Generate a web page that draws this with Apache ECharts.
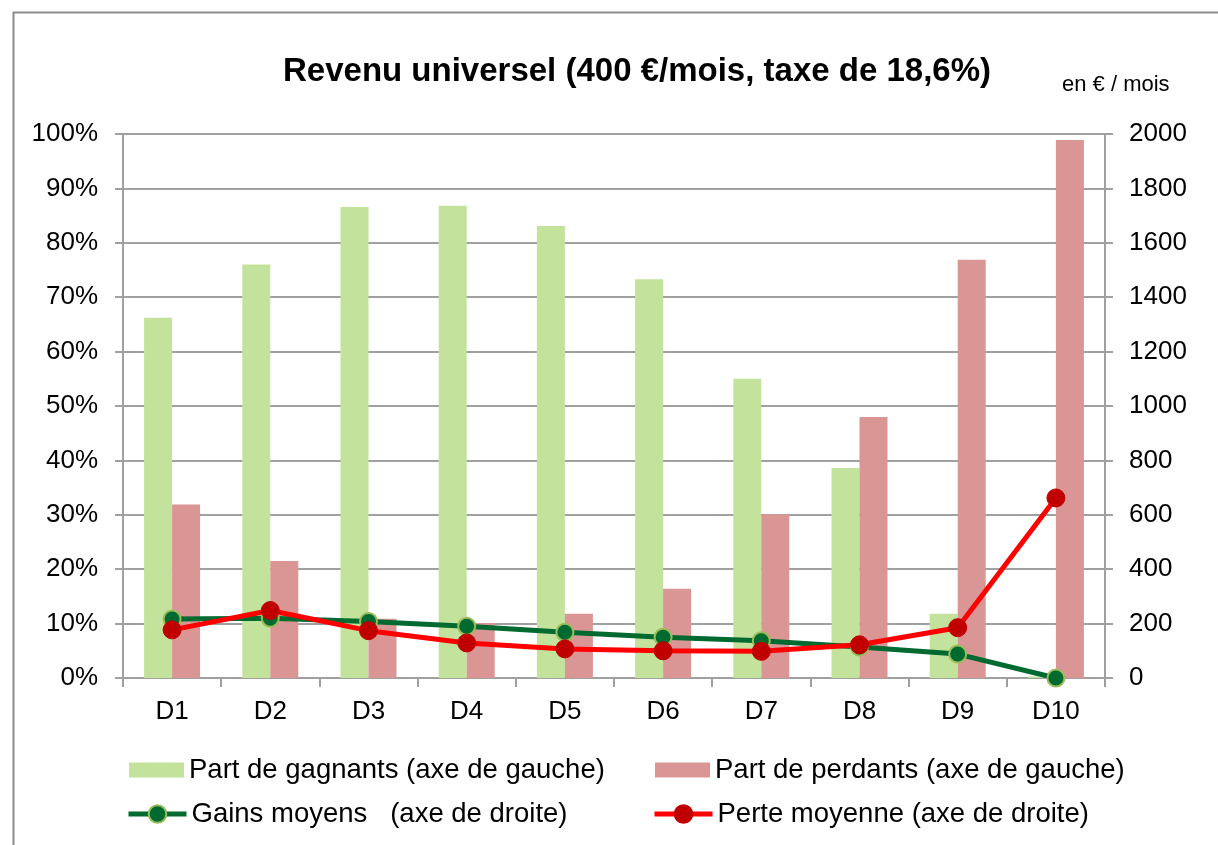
<!DOCTYPE html>
<html><head><meta charset="utf-8">
<script src="https://cdn.jsdelivr.net/npm/echarts@6/dist/echarts.min.js"></script>
<style>html,body{margin:0;padding:0;background:#fff}#c{width:1218px;height:845px}</style>
</head><body><div id="c"></div>
<script>
const categories = ['D1','D2','D3','D4','D5','D6','D7','D8','D9','D10'];
const partGagnants = [66.2, 76.0, 86.6, 86.8, 83.1, 73.3, 55.0, 38.6, 11.8, 0.3];
const partPerdants = [31.9, 21.5, 10.9, 10.1, 11.8, 16.4, 30.1, 48.0, 76.9, 98.9];
const gainsMoyens = [217, 220, 208, 190, 168, 150, 137, 114, 88, 0];
const perteMoyenne = [177, 248, 174, 129, 107, 100, 98, 122, 185, 662];
const leftTicks = {min: 0, max: 100, interval: 10};
const rightTicks = {min: 0, max: 2000, interval: 200};

const FONT = '"Liberation Sans", Arial, sans-serif';
const chart = echarts.init(document.getElementById('c'), null, {renderer: 'canvas'});
const gridColor = '#a0a0a0';
const legendText = {fontFamily: FONT, fontSize: 27.5, color: '#000'};
const S1 = 'Part de gagnants (axe de gauche)';
const S2 = 'Part de perdants (axe de gauche)';
const S3 = 'Gains moyens   (axe de droite)';
const S4 = 'Perte moyenne (axe de droite)';
chart.setOption({
  animation: false,
  backgroundColor: '#fff',
  graphic: [
    {type: 'rect', left: 11, top: 10, shape: {width: 1300, height: 900}, style: {fill: 'none', stroke: '#8c8c8c', lineWidth: 2}, silent: true},
    {type: 'text', x: 283, y: 72, style: {text: 'Revenu universel (400 €/mois, taxe de 18,6%)', font: 'bold 33px "Liberation Sans", Arial, sans-serif', fill: '#000', verticalAlign: 'middle'}},
    {type: 'text', x: 1062, y: 85, style: {text: 'en € / mois', font: '22px "Liberation Sans", Arial, sans-serif', fill: '#000', verticalAlign: 'middle'}}
  ],
  grid: {left: 123, right: 113, top: 134, bottom: 167, containLabel: false},
  legend: [
    {data: [{name: S1, icon: 'rect'}], left: 129, top: 756, padding: 0, itemWidth: 55, itemHeight: 15, itemGap: 0, textStyle: legendText, selectedMode: false},
    {data: [{name: S2, icon: 'rect'}], left: 655, top: 756, padding: 0, itemWidth: 55, itemHeight: 15, itemGap: 0, textStyle: legendText, selectedMode: false},
    {data: [S3], left: 126, top: 800, padding: 0, itemWidth: 58, itemHeight: 22, itemGap: 0, textStyle: legendText, selectedMode: false, lineStyle: {width: 5}},
    {data: [S4], left: 652, top: 800, padding: 0, itemWidth: 58, itemHeight: 22, itemGap: 0, textStyle: legendText, selectedMode: false, lineStyle: {width: 5}}
  ],
  xAxis: {
    type: 'category', data: categories,
    axisLine: {lineStyle: {color: gridColor, width: 2}},
    axisTick: {show: true, length: 9, lineStyle: {color: gridColor, width: 2}},
    axisLabel: {fontFamily: FONT, fontSize: 26, color: '#000', margin: 21}
  },
  yAxis: [
    {type: 'value', min: leftTicks.min, max: leftTicks.max, interval: leftTicks.interval,
     axisLine: {show: true, lineStyle: {color: gridColor, width: 2}},
     axisTick: {show: true, length: 8, lineStyle: {color: gridColor, width: 2}},
     splitLine: {lineStyle: {color: gridColor, width: 2}},
     axisLabel: {formatter: '{value}%', fontFamily: FONT, fontSize: 26, color: '#000', margin: 25}},
    {type: 'value', min: rightTicks.min, max: rightTicks.max, interval: rightTicks.interval,
     axisLine: {show: true, lineStyle: {color: gridColor, width: 2}},
     axisTick: {show: true, length: 8, lineStyle: {color: gridColor, width: 2}},
     splitLine: {show: false},
     axisLabel: {formatter: function (v) { return String(v); }, fontFamily: FONT, fontSize: 26, color: '#000', margin: 24}}
  ],
  series: [
    {name: S1, type: 'bar', yAxisIndex: 0, data: partGagnants, barWidth: 28, barGap: '0%',
     itemStyle: {color: '#c3e39d'}},
    {name: S2, type: 'bar', yAxisIndex: 0, data: partPerdants, barWidth: 28, barGap: '0%',
     itemStyle: {color: '#d99694'}},
    {name: S3, type: 'line', yAxisIndex: 1, data: gainsMoyens,
     symbol: 'circle', symbolSize: 17, lineStyle: {color: '#006a30', width: 5},
     itemStyle: {color: '#006a30', borderColor: '#9bbb59', borderWidth: 2}},
    {name: S4, type: 'line', yAxisIndex: 1, data: perteMoyenne,
     symbol: 'circle', symbolSize: 18, lineStyle: {color: '#ff0000', width: 5},
     itemStyle: {color: '#c00000', borderColor: '#c00000', borderWidth: 1}}
  ]
});
</script></body></html>
